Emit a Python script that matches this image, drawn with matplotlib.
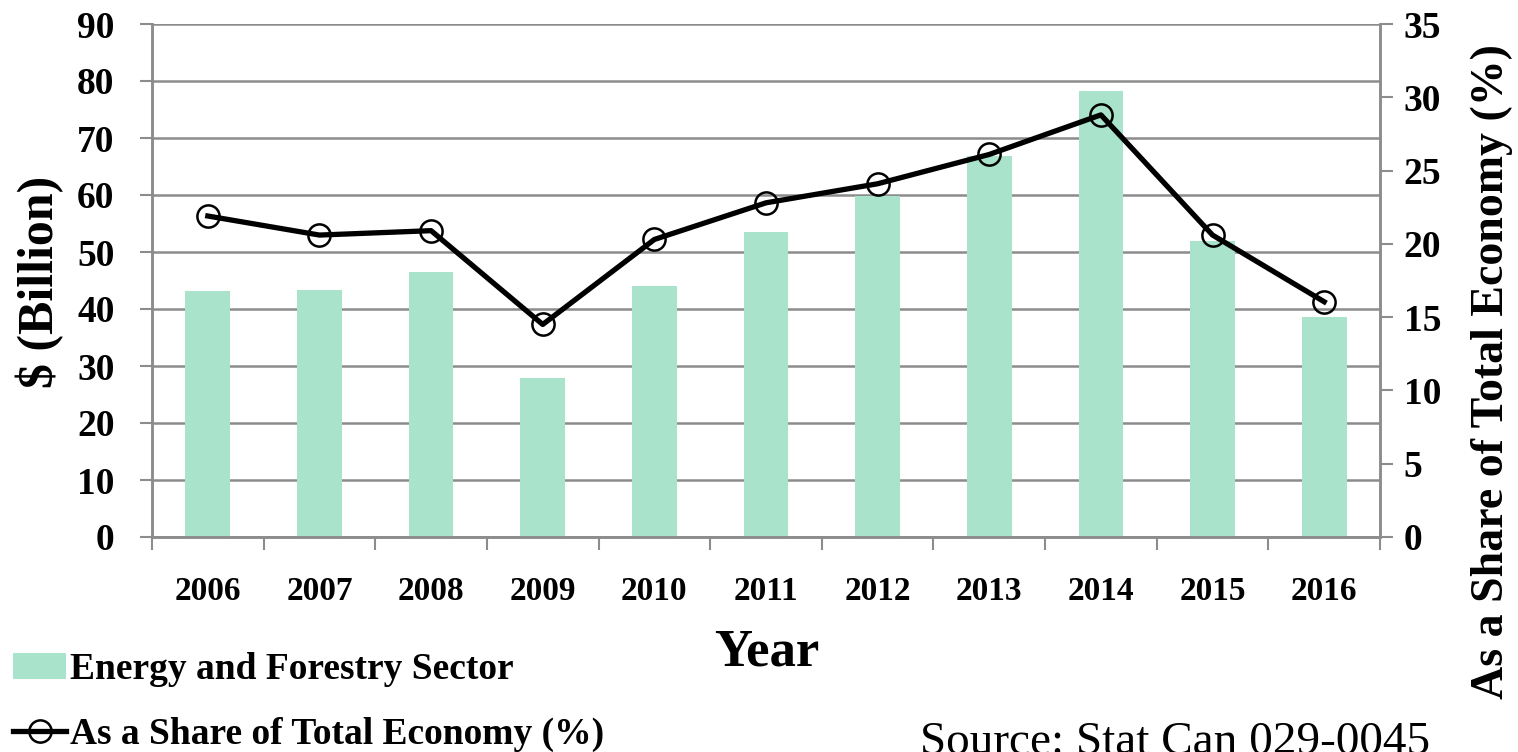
import matplotlib
matplotlib.use('Agg')
import matplotlib.pyplot as plt
import numpy as np

plt.rcParams['font.family'] = ['Liberation Serif', 'DejaVu Serif']
plt.rcParams['font.weight'] = 'bold'

# data
years = ['2006', '2007', '2008', '2009', '2010', '2011', '2012', '2013', '2014', '2015', '2016']
sector_billion = [43.2, 43.3, 46.5, 27.9, 44.0, 53.5, 59.8, 66.8, 78.2, 51.9, 38.6]
share_pct = [21.9, 20.6, 20.9, 14.5, 20.3, 22.8, 24.1, 26.1, 28.8, 20.6, 16.05]

bar_color = '#a9e3cb'
grid_color = '#8c8c8c'

W, H = 1518, 752
fig = plt.figure(figsize=(W / 100, H / 100), dpi=100)
ax = fig.add_axes([152 / W, 1 - 537 / H, 1228 / W, 513 / H])
ax2 = ax.twinx()

x = np.arange(len(years))
bars = ax.bar(x, sector_billion, width=0.4, color=bar_color, zorder=2,
              label='Energy and Forestry Sector')
line, = ax2.plot(x, share_pct, color='black', lw=3.8, marker='o', ms=16,
                 mfc='none', mec='black', mew=1.8, zorder=3,
                 label='As a Share of Total Economy (%)')

ax.set_xlim(-0.5, len(years) - 0.5)
ax.set_ylim(0, 90)
ax.set_yticks(range(0, 91, 10))
ax2.set_ylim(0, 35)
ax2.set_yticks(range(0, 36, 5))

ax.yaxis.grid(True, color=grid_color, lw=1.8, zorder=0)
ax.set_axisbelow(True)

ax.set_xticks(x)
ax.set_xticklabels(years)
ax.set_xticks(np.arange(-0.5, len(years)), minor=True)
ax.tick_params(axis='x', which='major', length=0, labelsize=24, pad=28)
ax.tick_params(axis='x', which='minor', length=9, width=1.5, color=grid_color)
ax.tick_params(axis='y', length=9, width=1.5, color=grid_color, labelsize=27, pad=18)
ax2.tick_params(axis='y', length=9, width=1.5, color=grid_color, labelsize=27, pad=8)

for a in (ax, ax2):
    a.spines['top'].set_visible(False)
    for s in ('left', 'right', 'bottom'):
        a.spines[s].set_color(grid_color)
        a.spines[s].set_linewidth(1.8)

fig.text(40 / W, 1 - 282 / H, '$ (Billion)', fontsize=36, fontweight='bold',
         rotation=90, ha='center', va='center')
fig.text(767 / W, 1 - 652 / H, 'Year', fontsize=38, fontweight='bold',
         ha='center', va='center')
fig.text(1492 / W, 1 - 372 / H, 'As a Share of Total Economy (%)', fontsize=33,
         fontweight='bold', rotation=90, ha='center', va='center')

fig.legend(handles=[bars, line], loc='lower left', bbox_to_anchor=(-0.006, -0.03),
           frameon=False, prop={'size': 27, 'weight': 'bold'},
           handlelength=1.4, handletextpad=0.1, labelspacing=0.8, borderaxespad=0.2)

fig.text(920 / W, 1 - 722 / H, 'Source: Stat Can 029-0045', fontsize=34,
         fontweight='normal', ha='left', va='top')

fig.savefig('out.png', dpi=100)
